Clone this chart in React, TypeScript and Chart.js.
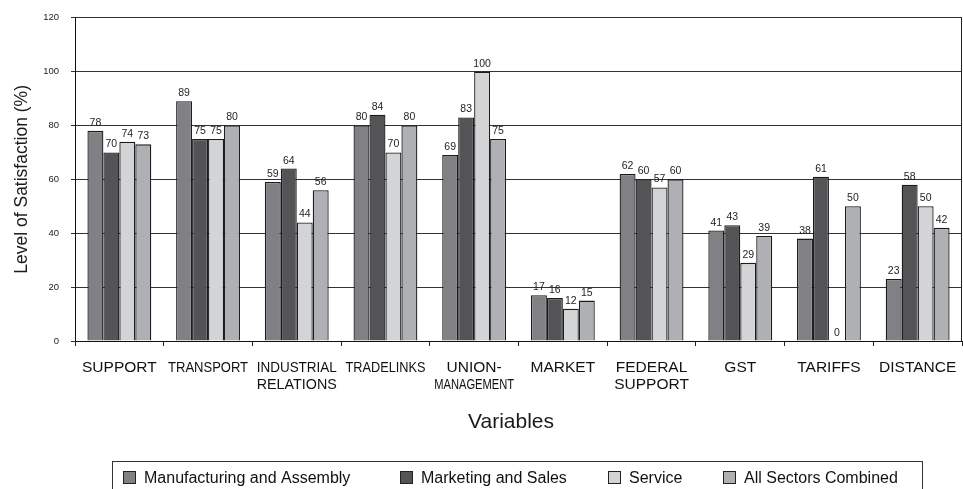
import React, { useEffect, useRef } from "react";
import { Chart, registerables } from "chart.js";

Chart.register(...registerables);

const categories: string[][] = [
  ["SUPPORT"],
  ["TRANSPORT"],
  ["INDUSTRIAL", "RELATIONS"],
  ["TRADELINKS"],
  ["UNION-", "MANAGEMENT"],
  ["MARKET"],
  ["FEDERAL", "SUPPORT"],
  ["GST"],
  ["TARIFFS"],
  ["DISTANCE"],
];

const seriesNames = [
  "Manufacturing and Assembly",
  "Marketing and Sales",
  "Service",
  "All Sectors Combined",
];

const manufacturing = [78, 89, 59, 80, 69, 17, 62, 41, 38, 23];
const marketing = [70, 75, 64, 84, 83, 16, 60, 43, 61, 58];
const service = [74, 75, 44, 70, 100, 12, 57, 29, 0, 50];
const allSectors = [73, 80, 56, 80, 75, 15, 60, 39, 50, 42];

const yMin = 0;
const yMax = 120;
const yStep = 20;

const xTitle = "Variables";
const yTitle = "Level of Satisfaction (%)";

const colors = ["#818185", "#545456", "#d3d4d6", "#afb0b3"];
const FONT = '"Liberation Sans", Arial, "Noto Sans", sans-serif';

const overlayPlugin = {
  id: "overlay",
  afterDatasetsDraw(chart: any) {
    const ctx = chart.ctx;
    ctx.save();
    ctx.font = `10.5px ${FONT}`;
    ctx.fillStyle = "#1e1e1e";
    ctx.textAlign = "center";
    ctx.textBaseline = "alphabetic";
    chart.data.datasets.forEach((ds: any, di: number) => {
      const meta = chart.getDatasetMeta(di);
      meta.data.forEach((bar: any, i: number) => {
        const v = ds.data[i];
        ctx.fillText(String(v), bar.x, bar.y - 5);
      });
    });
    ctx.restore();
  },
  afterDraw(chart: any) {
    const ctx = chart.ctx;
    const area = chart.chartArea;
    const xScale = chart.scales.x;
    ctx.save();

    // right border of plot
    ctx.strokeStyle = "#222";
    ctx.lineWidth = 1;
    ctx.beginPath();
    ctx.moveTo(Math.round(area.right) - 0.5, area.top);
    ctx.lineTo(Math.round(area.right) - 0.5, area.bottom);
    ctx.stroke();

    // x category labels
    ctx.fillStyle = "#111";
    ctx.font = `15.5px ${FONT}`;
    ctx.textAlign = "center";
    ctx.textBaseline = "alphabetic";
    categories.forEach((lines, i) => {
      const cx = xScale.getPixelForValue(i);
      lines.forEach((ln, li) => {
        ctx.fillText(ln, cx, area.bottom + 31 + li * 17, 80);
      });
    });

    // x title
    ctx.font = `21px ${FONT}`;
    ctx.fillStyle = "#1a1a1a";
    ctx.fillText(xTitle, 511, 428);

    // y title
    ctx.save();
    ctx.translate(27, (area.top + area.bottom) / 2);
    ctx.rotate(-Math.PI / 2);
    ctx.font = `17.5px ${FONT}`;
    ctx.textAlign = "center";
    ctx.fillText(yTitle, 0, 0);
    ctx.restore();

    // legend
    ctx.strokeStyle = "#333";
    ctx.lineWidth = 1;
    ctx.strokeRect(112.5, 461.5, 810, 60);
    const sq = [123, 400, 608, 723];
    ctx.font = `16px ${FONT}`;
    ctx.textAlign = "left";
    seriesNames.forEach((name, i) => {
      ctx.fillStyle = colors[i];
      ctx.fillRect(sq[i], 471, 12, 12);
      ctx.strokeStyle = "#222";
      ctx.strokeRect(sq[i] + 0.5, 471.5, 12, 12);
      ctx.fillStyle = "#111";
      ctx.fillText(name, sq[i] + 21, 483);
    });

    ctx.restore();
  },
};

export default function App() {
  const canvasRef = useRef<HTMLCanvasElement>(null);

  useEffect(() => {
    if (!canvasRef.current) return;
    const chart = new Chart(canvasRef.current, {
      type: "bar",
      data: {
        labels: categories.map((c) => c.join(" ")),
        datasets: [manufacturing, marketing, service, allSectors].map((d, i) => ({
          label: seriesNames[i],
          data: d,
          backgroundColor: colors[i],
          borderColor: "#1c1c1c",
          borderWidth: 1.3,
          categoryPercentage: 0.72,
          barPercentage: 1,
        })),
      },
      options: {
        responsive: false,
        animation: false,
        layout: { padding: { top: 16, right: 1, bottom: 0, left: 0 } },
        plugins: {
          legend: { display: false },
          tooltip: { enabled: false },
          title: { display: false },
        },
        scales: {
          x: {
            offset: true,
            grid: {
              drawOnChartArea: false,
              drawTicks: true,
              tickLength: 5,
              color: "#222",
            },
            border: { display: true, color: "#111", width: 1 },
            ticks: { display: false },
            afterFit: (scale: any) => {
              scale.height = 148;
            },
          },
          y: {
            min: yMin,
            max: yMax,
            grid: {
              color: "#333",
              lineWidth: 1,
              tickLength: 4,
            },
            border: { display: true, color: "#111", width: 1 },
            ticks: {
              stepSize: yStep,
              padding: 12,
              color: "#222",
              font: { size: 9.5, family: FONT },
            },
            afterFit: (scale: any) => {
              scale.width = 75;
            },
          },
        },
      },
      plugins: [overlayPlugin],
    });
    return () => chart.destroy();
  }, []);

  return (
    <div style={{ position: "fixed", left: 0, top: 0, width: 963, height: 489, background: "#fff" }}>
      <canvas ref={canvasRef} width={963} height={489} />
    </div>
  );
}
